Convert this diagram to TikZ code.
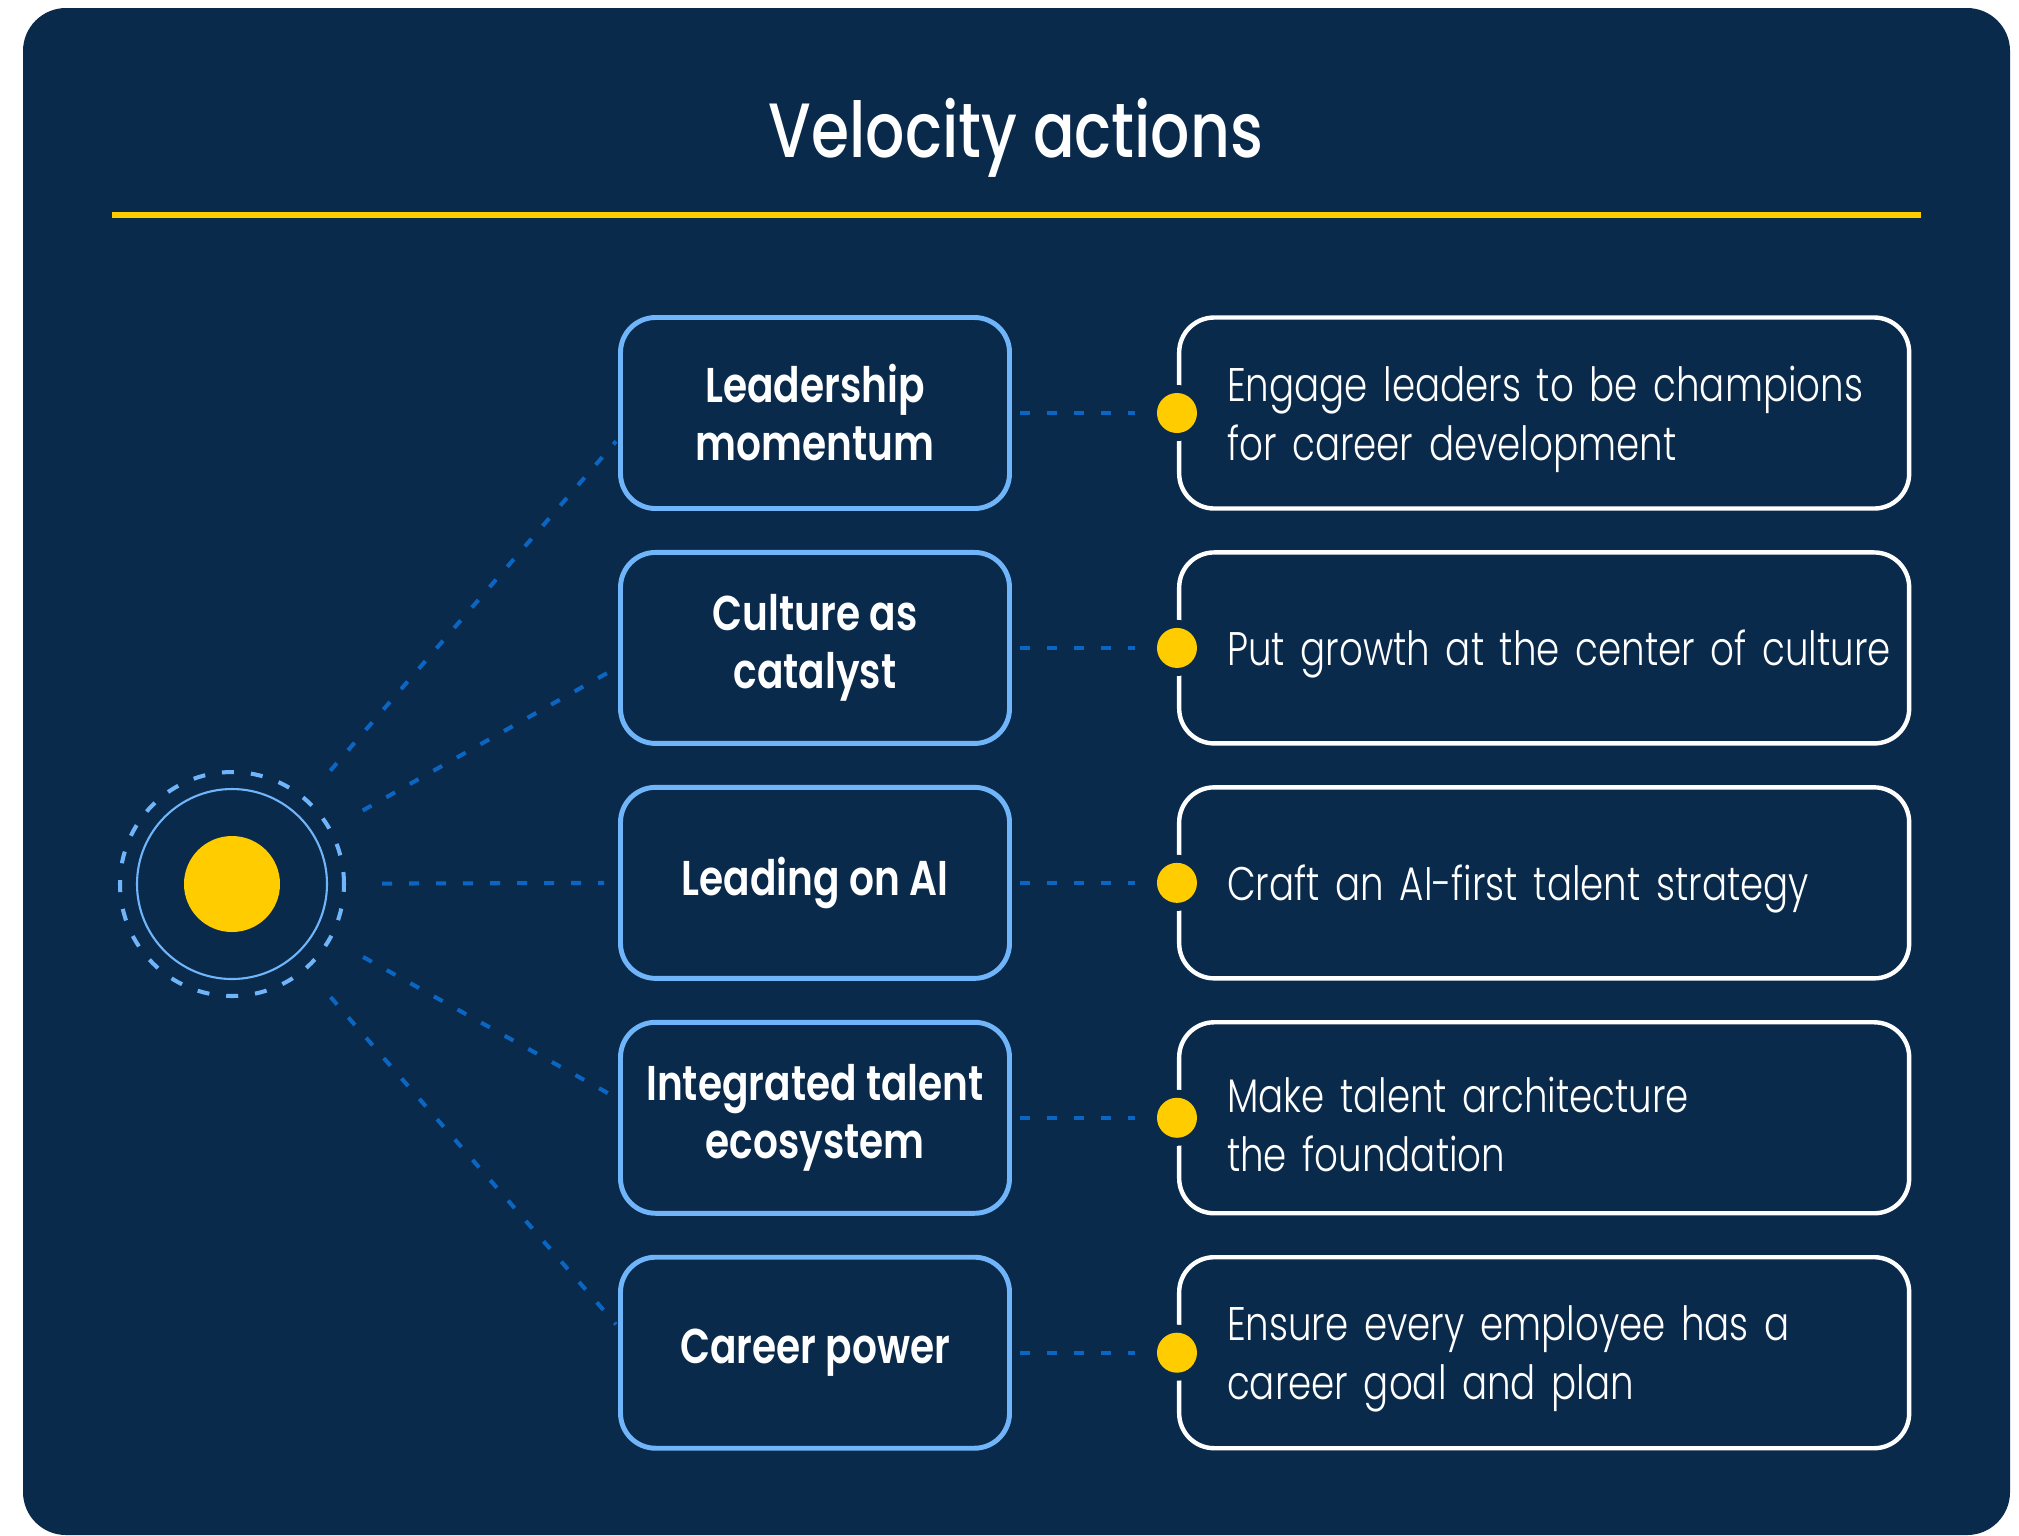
\documentclass[tikz,border=0pt]{standalone}
\usepackage{fontspec}
\setmainfont{Poppins}[FakeStretch=0.8]
\newfontfamily\titlefont{Poppins Medium}[FakeStretch=0.8]
\newfontfamily\labelfont{Poppins SemiBold}[FakeStretch=0.8]
\newfontfamily\bodyfont{Poppins Light}[FakeStretch=0.79, WordSpace=0.7]
\usetikzlibrary{positioning}

\definecolor{navy}{HTML}{0A2A4C}
\definecolor{skyblue}{HTML}{70B5F9}
\definecolor{linkblue}{HTML}{0A66C2}
\definecolor{sunyellow}{HTML}{FFCC00}

\begin{document}
\begin{tikzpicture}[
    node distance=0.39cm,  % vertical gap between the rows
    % Styles
    action/.style={draw=skyblue, line width=1.4pt, rounded corners=0.35cm, minimum width=3.89cm, minimum height=1.91cm, align=center, text=white, font=\labelfont\fontsize{13.9pt}{16.5pt}\selectfont},
    goal/.style={draw=white, line width=1.25pt, rounded corners=0.35cm, text width=6.5cm, inner xsep=0.4cm, minimum height=1.91cm, align=left, text=white, font=\bodyfont\fontsize{13.4pt}{16.8pt}\selectfont,
        execute at begin node={\hyphenpenalty=10000\leftskip=0.08cm},
        execute at end node={\endgraf\kern-0.13cm}},
    yellowdot/.style={circle, fill=navy, minimum size=0.56cm, inner sep=0pt, path picture={\fill[sunyellow] (path picture bounding box.center) circle (0.2cm);}},
    connector/.style={linkblue, line width=1.15pt, dash pattern=on 0.1cm off 0.17cm},
]
\useasboundingbox (0,0) rectangle (20.19,-15.35);

% Card
\fill[navy, rounded corners=0.43cm] (0.23,-0.08) rectangle (20.10,-15.35);

% Title
\node[font=\titlefont\fontsize{21.9pt}{26pt}\selectfont, text=white, anchor=base] (title) at (10.16,-1.57) {Velocity actions};
\draw[sunyellow, line width=1.45pt] (1.12,-2.15) -- (19.21,-2.15);

% Hub (left)
\node[circle, draw=skyblue, line width=1.15pt, dash pattern=on 0.12cm off 0.17cm, minimum size=2.24cm, inner sep=0pt] (hub) at (2.32,-8.84) {};
\node[circle, draw=skyblue, line width=0.6pt, minimum size=1.90cm, inner sep=0pt] (ring) at (hub) {};
\node[circle, fill=sunyellow, minimum size=0.96cm, inner sep=0pt] (core) at (hub) {};

% Velocity actions
\node[action] (lead) at (8.15,-4.13) {Leadership\\momentum};
\node[action, below=of lead] (culture) {Culture as\\catalyst};
\node[action, below=of culture] (ai) {Leading on AI};
\node[action, below=of ai] (talent) {Integrated talent\\ecosystem};
\node[action, below=of talent] (career) {Career power};

% What each action means
\node[goal, right=1.65cm of lead] (engage) {Engage leaders to be champions\\for career development};
\node[goal, right=1.65cm of culture] (growth) {\mbox{Put growth at the center of culture}};
\node[goal, right=1.65cm of ai] (craft) {Craft an AI-first talent strategy};
\node[goal, right=1.65cm of talent] (architecture) {Make talent architecture\\the foundation};
\node[goal, right=1.65cm of career] (plan) {Ensure every employee has a\\career goal and plan};

\node[yellowdot] (d1) at (engage.west) {};
\node[yellowdot] (d2) at (growth.west) {};
\node[yellowdot] (d3) at (craft.west) {};
\node[yellowdot] (d4) at (architecture.west) {};
\node[yellowdot] (d5) at (plan.west) {};

% Spokes from the hub
\draw[connector, shorten <=0.36cm, shorten >=0.03cm] (hub) -- ([yshift=-0.26cm]lead.west);
\draw[connector, shorten <=0.36cm, shorten >=0.06cm] (hub) -- ([yshift=-0.19cm]culture.west);
\draw[connector, shorten <=0.36cm, shorten >=0.14cm] (hub) -- (ai.west);
\draw[connector, shorten <=0.36cm, shorten >=0.06cm] (hub) -- ([yshift=0.19cm]talent.west);
\draw[connector, shorten <=0.36cm, shorten >=0.03cm] (hub) -- ([yshift=0.26cm]career.west);

% Action to goal
\draw[connector, shorten <=0.08cm, shorten >=0.13cm] (lead) -- (d1);
\draw[connector, shorten <=0.08cm, shorten >=0.13cm] (culture) -- (d2);
\draw[connector, shorten <=0.08cm, shorten >=0.13cm] (ai) -- (d3);
\draw[connector, shorten <=0.08cm, shorten >=0.13cm] (talent) -- (d4);
\draw[connector, shorten <=0.08cm, shorten >=0.13cm] (career) -- (d5);

\end{tikzpicture}
\end{document}
